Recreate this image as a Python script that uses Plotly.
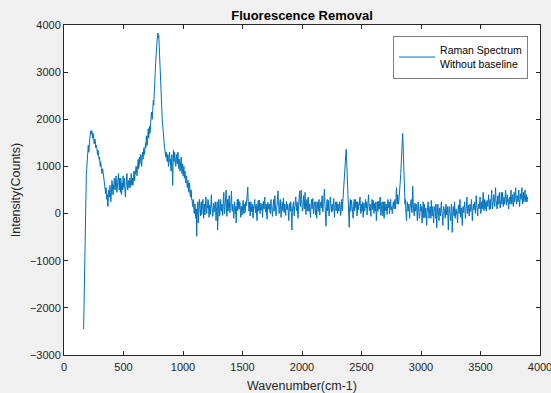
import numpy as np
import plotly.graph_objects as go

# Wavenumber grid (cm-1): first and last sample of the spectrum
wavenumber_start = 165
wavenumber_end = 3900

# Intensity (counts), ~3.25 cm-1 per sample, 20 per row
intensity = [
    -2450, -1800, -1150, -600, -50, 300, 650, 850, 950, 1100, 1250, 1400, 1450, 1300, 1350, 1500, 1600, 1700, 1750, 1680,  # 165
    1700, 1760, 1720, 1600, 1650, 1700, 1600, 1480, 1500, 1580, 1550, 1400, 1420, 1450, 1380, 1300, 1250, 1350, 1300, 1200,  # 230
    1150, 1200, 1050, 1000, 1100, 1050, 950, 850, 880, 950, 900, 800, 750, 650, 600, 500, 480, 420, 550, 450,  # 295
    300, 400, 200, 150, 450, 500, 350, 550, 600, 450, 250, 350, 480, 700, 650, 500, 400, 600, 520, 750,  # 360
    700, 500, 550, 750, 800, 600, 450, 550, 650, 800, 850, 650, 500, 750, 600, 450, 750, 600, 400, 650,  # 425
    650, 500, 800, 600, 550, 750, 700, 450, 350, 550, 600, 800, 850, 600, 500, 650, 700, 550, 600, 750,  # 490
    550, 650, 700, 850, 600, 750, 750, 600, 650, 800, 900, 750, 700, 900, 850, 1000, 1000, 850, 800, 950,  # 555
    1050, 1150, 950, 1000, 1200, 1050, 1100, 1250, 1250, 1100, 1000, 1200, 1300, 1150, 1200, 1350, 1400, 1250, 1350, 1500,  # 620
    1500, 1400, 1650, 1550, 1450, 1600, 1700, 1800, 1600, 1700, 1850, 1700, 1750, 1900, 2000, 2150, 2100, 2000, 2250, 2300,  # 685
    2400, 2300, 2600, 2750, 2900, 3000, 3200, 3400, 3550, 3650, 3700, 3780, 3830, 3720, 3780, 3600, 3350, 3100, 2900, 2700,  # 750
    2500, 2300, 2150, 2000, 1900, 1750, 1650, 1550, 1500, 1400, 1350, 1200, 1200, 1300, 1300, 1150, 1100, 1250, 1250, 1000,  # 815
    1050, 1200, 1300, 1100, 1150, 950, 900, 1100, 1250, 900, 600, 1000, 1350, 1200, 1100, 1300, 1200, 1050, 1000, 1150,  # 880
    1250, 1100, 1050, 1300, 1300, 1000, 950, 1150, 1150, 900, 1000, 1200, 1200, 950, 850, 1050, 1050, 800, 900, 1000,  # 945
    750, 850, 900, 700, 650, 800, 800, 600, 550, 700, 700, 500, 450, 650, 600, 400, 350, 500, 500, 300,  # 1010
    300, 200, 150, 300, 250, 50, 0, 200, 200, -50, -100, 100, -480, -100, 50, 250, -200, 0, 100, 300,  # 1075
    150, 20, -50, 200, 250, -20, 50, 180, 300, 100, -100, 120, 200, -30, 80, 250, 350, 60, 0, 150,  # 1141
    120, 300, 280, 50, -80, 100, 180, -20, 30, 250, 400, 150, 100, -60, -50, 200, 220, 30, 60, 180,  # 1206
    250, 100, -150, 50, 150, 250, -350, 0, 100, 300, 200, -50, -20, 150, 300, 80, 50, 200, 180, -40,  # 1271
    100, 250, 450, 150, 0, 120, 250, 400, 500, 100, -60, 150, 300, 50, 120, 250, 380, 100, 20, 200,  # 1336
    200, 350, 480, 100, 50, 200, 150, -50, -100, 100, 250, 80, 0, 150, -200, 50, 180, 300, 60, 150,  # 1401
    300, 100, 100, 250, 220, 0, -80, 150, 150, -30, 50, 200, 280, 100, 0, 180, 200, 20, 90, 250,  # 1466
    160, 300, 350, 450, 560, 250, 200, 50, 100, 250, -50, 100, 250, 150, 40, 200, 180, -30, -100, 150,  # 1531
    120, 250, 300, 100, 20, 180, 200, -50, -150, 100, 150, 280, 60, 200, 280, 50, 0, 150, 220, 80,  # 1596
    80, 200, -80, 50, 260, 150, 100, 300, 350, 100, 30, 200, 180, -50, -120, 150, 240, 100, 90, 200,  # 1661
    200, 50, 0, 180, 300, 150, 120, -20, -60, 150, 220, 300, 50, 150, 380, 200, 100, -50, -20, 120,  # 1726
    250, 350, 480, 200, 150, 0, 60, 250, 300, 80, -80, 100, 200, 250, 100, 50, 330, 150, 20, 200,  # 1791
    180, 50, -40, 150, 260, 100, 80, 200, 150, -50, -150, 100, 220, 150, 50, 250, 120, -100, -350, 50,  # 1856
    100, 200, 250, 50, -50, 150, 180, 300, 350, 100, 60, 250, 200, -20, -100, 150, 280, 400, 480, 200,  # 1921
    150, 350, 500, 300, 220, 50, 60, 250, 380, 200, 100, 300, 450, 150, -20, 100, 250, 300, 120, 50,  # 1986
    350, 150, 50, 200, 200, 0, -80, 150, 260, 300, 100, 220, 320, 100, 0, 150, 180, 250, 80, -30,  # 2051
    250, 50, -100, 100, 150, 250, 50, 200, 300, 100, -30, 150, 200, 250, 120, 300, 380, 150, 40, 200,  # 2116
    220, 400, 520, 250, 100, -100, -270, 50, 180, 300, 60, 200, 280, 100, -50, 100, 150, 350, 250, 50,  # 2181
    30, 150, 200, 50, 100, 250, 320, 100, -80, 150, 180, 250, 60, 150, 250, 100, 0, 200, 150, 50,  # 2246
    100, 250, 220, 50, -40, 100, 160, 300, 60, 200, 250, 350, 450, 600, 800, 1000, 1150, 1300, 1360, 1200,  # 2312
    1000, 700, 500, 250, 150, 0, -290, 100, 200, 300, 50, 150, 280, 200, 100, -50, -100, 150, 220, 300,  # 2377
    60, 200, 300, 150, 120, 250, -50, 0, 250, 150, 80, 200, 180, 300, 350, 100, 0, 150, 200, 50,  # 2442
    100, 250, -80, 50, 220, 100, 50, 200, 300, 150, 120, 250, -30, 100, 180, 300, 400, 200, 60, 150,  # 2507
    200, 50, -60, 150, 150, 300, 80, 200, 280, 100, 0, 150, 220, 50, 110, 250, -150, 0, 180, 250,  # 2572
    50, 200, 260, 100, 100, 300, 350, 150, -40, 100, 200, 250, 80, -50, 150, 250, -100, 50, 250, 150,  # 2637
    60, 200, 180, 50, -20, 150, 300, 200, 120, 250, 0, 100, 220, 300, 80, 150, 150, 0, 40, 200,  # 2702
    250, 150, 100, 250, 300, 100, 150, 350, 550, 300, 200, 400, 350, 200, 250, 450, 500, 600, 700, 850,  # 2767
    1000, 1200, 1450, 1600, 1700, 1500, 1250, 900, 600, 400, 200, 300, 100, -50, -150, 100, 250, 150, 50, 200,  # 2832
    200, 50, -100, 100, 150, 250, 300, 100, 20, 200, 580, 300, 100, 0, -50, 150, 220, 50, 80, 200,  # 2897
    150, 0, -150, 100, 250, 150, 50, -100, -60, 100, 200, 50, 100, 150, -200, 0, 150, 250, 0, -100,  # 2962
    200, 50, -80, 100, 120, -50, -250, 0, 80, 200, 250, 50, -100, 0, 100, 150, 30, -100, 280, 50,  # 3027
    -50, 100, 150, -50, -200, 50, 80, 150, 0, -100, 200, 50, -300, -50, 100, 200, 50, -100, -150, 100,  # 3092
    120, 0, -50, 150, 250, 50, 0, -150, -250, 50, 150, 100, 50, -50, -100, 100, 200, 0, -30, 150,  # 3157
    100, -100, -350, 0, 150, 50, 20, -100, -150, 100, 200, 50, -400, -100, 80, 150, 0, -50, 250, 100,  # 3222
    -100, 50, 100, 0, 50, -100, -200, 50, 180, 100, 0, 150, 300, 50, -80, 100, 120, -50, -250, 50,  # 3287
    150, 50, 20, 150, 250, 100, -100, 0, 100, 200, 350, 100, 0, 150, 180, 50, -50, 100, 200, 50,  # 3352
    50, 200, 300, 50, -150, 50, 150, 200, 80, 150, 250, 100, 0, 200, 380, 200, 100, -50, -50, 150,  # 3417
    200, 100, 120, 250, 350, 150, 0, 100, 250, 200, 100, 300, 450, 200, 60, 200, 300, 100, 150, 250,  # 3482
    50, 150, 280, 200, 150, 300, 400, 200, 80, 200, 300, 100, 180, 350, 500, 250, 100, 200, 250, 400,  # 3547
    350, 200, 150, 400, 550, 300, 200, 100, 100, 250, 380, 200, 250, 400, 450, 200, 120, 250, 300, 450,  # 3612
    200, 300, 450, 250, 150, 300, 350, 200, 250, 400, 500, 300, 180, 300, 400, 250, 300, 150, 100, 300,  # 3677
    350, 200, 250, 400, 500, 300, 200, 350, 400, 250, 150, 300, 450, 250, 300, 450, 550, 350, 200, 300,  # 3742
    380, 250, 250, 400, 500, 300, 150, 250, 420, 300, 300, 450, 550, 350, 200, 300, 450, 250, 280, 400,  # 3807
    500, 350, 250, 300, 400, 250, 300, 350, 350,  # 3872
]

wavenumber = np.linspace(wavenumber_start, wavenumber_end, len(intensity))

x_ticks = [0, 500, 1000, 1500, 2000, 2500, 3000, 3500, 4000]
y_ticks = [-3000, -2000, -1000, 0, 1000, 2000, 3000, 4000]

FONT = "Liberation Sans, Arial, Helvetica, sans-serif"
AX = "#262626"

fig = go.Figure()
fig.add_trace(go.Scatter(
    x=wavenumber, y=intensity, mode="lines",
    line=dict(color="#0072BD", width=1),
    name="Raman Spectrum<br>Without baseline",
))

axis_common = dict(
    showgrid=False, zeroline=False, showline=True, linecolor=AX, linewidth=1,
    mirror="allticks", ticks="inside", ticklen=4, tickcolor=AX, tickwidth=1,
    tickfont=dict(family=FONT, size=11, color=AX),
    ticklabeloverflow="allow", automargin=False,
)

fig.update_layout(
    width=551, height=393,
    margin=dict(l=64, r=11, t=25, b=38),
    paper_bgcolor="#f0f0f0", plot_bgcolor="white",
    font=dict(family=FONT, color=AX),
    title=dict(text="<b>Fluorescence Removal</b>", x=0.5, xref="paper",
               xanchor="center", y=1, yref="paper", yanchor="bottom",
               pad=dict(b=5), font=dict(size=13, color="#000000")),
    xaxis=dict(range=[0, 4000], tickvals=x_ticks, ticklabelstandoff=2,
               title=dict(text="Wavenumber(cm-1)", standoff=10,
                          font=dict(size=12.5, color=AX)),
               **axis_common),
    yaxis=dict(range=[-3000, 4000], tickvals=y_ticks,
               title=dict(text="Intensity(Counts)", standoff=6,
                          font=dict(size=12.5, color=AX)),
               **axis_common),
    showlegend=True,
    legend=dict(x=0.975, xanchor="right", y=0.967, yanchor="top",
                bgcolor="white", bordercolor="#7f7f7f", borderwidth=1,
                font=dict(family=FONT, size=10.5, color="#000000"),
                valign="middle", tracegroupgap=0, itemwidth=36),
)

fig.write_html("out.html")
